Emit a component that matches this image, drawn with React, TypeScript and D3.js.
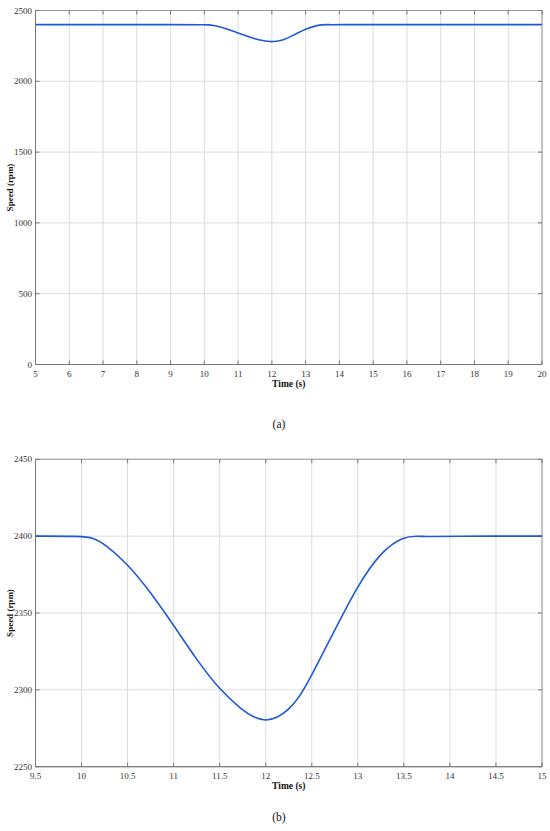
import React from "react";
import * as d3 from "d3";

const timeS = [5, 9.5, 10.0, 10.125, 10.25, 10.5, 10.75, 11.0, 11.25, 11.5, 11.75, 11.875, 12.0, 12.125, 12.25, 12.375, 12.5, 12.75, 13.0, 13.25, 13.5, 13.65, 13.8, 14.0, 15, 20];
const speedRpm = [2400, 2400, 2400, 2399, 2395, 2382, 2363.5, 2342, 2319.5, 2300, 2286.5, 2282, 2279.6, 2281.8, 2287, 2296, 2309.5, 2339, 2368, 2390, 2400, 2400, 2399.6, 2400, 2400, 2400];

const ticksXA = [5, 6, 7, 8, 9, 10, 11, 12, 13, 14, 15, 16, 17, 18, 19, 20];
const ticksYA = [0, 500, 1000, 1500, 2000, 2500];
const ticksXB = [9.5, 10, 10.5, 11, 11.5, 12, 12.5, 13, 13.5, 14, 14.5, 15];
const ticksYB = [2250, 2300, 2350, 2400, 2450];

const xLabel = "Time (s)";
const yLabel = "Speed (rpm)";
const FONT = "Liberation Serif, Times New Roman, Times, DejaVu Serif, serif";

type PanelProps = {
  top: number;
  bottom: number;
  xDomain: [number, number];
  yDomain: [number, number];
  xTicks: number[];
  yTicks: number[];
  caption: string;
  captionY: number;
};

function Panel({ top, bottom, xDomain, yDomain, xTicks, yTicks, caption, captionY }: PanelProps) {
  const left = 35.5;
  const right = 542;
  const x = d3.scaleLinear().domain(xDomain).range([left, right]);
  const y = d3.scaleLinear().domain(yDomain).range([bottom, top]);
  const pts = timeS
    .map((t, i) => [t, speedRpm[i]] as [number, number])
    .filter(([t]) => t >= xDomain[0] - 0.6 && t <= xDomain[1] + 0.6);
  const line = d3
    .line<[number, number]>()
    .x((d) => x(d[0]))
    .y((d) => y(d[1]))
    .curve(d3.curveBasis);
  const clipId = "clip-" + caption.replace(/\W/g, "");
  const fmt = (v: number) => String(v);
  return (
    <g style={{ fontFamily: FONT }}>
      <defs>
        <clipPath id={clipId}>
          <rect x={left} y={top} width={right - left} height={bottom - top} />
        </clipPath>
      </defs>
      {xTicks.map((t) => (
        <line key={"gx" + t} x1={x(t)} x2={x(t)} y1={top} y2={bottom} stroke="#dcdcdc" strokeWidth={1} />
      ))}
      {yTicks.map((t) => (
        <line key={"gy" + t} x1={left} x2={right} y1={y(t)} y2={y(t)} stroke="#dcdcdc" strokeWidth={1} />
      ))}
      <rect x={left} y={top} width={right - left} height={bottom - top} fill="none" stroke="#9a9a9a" strokeWidth={1} />
      <line x1={left} x2={left} y1={top} y2={bottom} stroke="#777" strokeWidth={1} />
      <line x1={left} x2={right} y1={bottom} y2={bottom} stroke="#777" strokeWidth={1} />
      {xTicks.map((t) => (
        <g key={"tx" + t}>
          <line x1={x(t)} x2={x(t)} y1={bottom} y2={bottom - 4} stroke="#777" />
          <line x1={x(t)} x2={x(t)} y1={top} y2={top + 4} stroke="#777" />
          <text x={x(t)} y={bottom + 12} textAnchor="middle" fontSize={9} fill="#333">
            {fmt(t)}
          </text>
        </g>
      ))}
      {yTicks.map((t) => (
        <g key={"ty" + t}>
          <line x1={left} x2={left + 4} y1={y(t)} y2={y(t)} stroke="#777" />
          <line x1={right} x2={right - 4} y1={y(t)} y2={y(t)} stroke="#777" />
          <text x={left - 3.5} y={y(t) + 3} textAnchor="end" fontSize={9} fill="#333">
            {fmt(t)}
          </text>
        </g>
      ))}
      <path d={line(pts) || ""} fill="none" stroke="#2158d8" strokeWidth={1.6} clipPath={`url(#${clipId})`} />
      <text x={(left + right) / 2} y={bottom + 22} textAnchor="middle" fontSize={9.5} fontWeight="bold" fill="#111">
        {xLabel}
      </text>
      <text
        transform={`translate(13, ${(top + bottom) / 2}) rotate(-90)`}
        textAnchor="middle"
        fontSize={9}
        fontWeight="bold"
        fill="#111"
      >
        {yLabel}
      </text>
      <text x={279} y={captionY} textAnchor="middle" fontSize={11.5} fill="#111">
        {caption}
      </text>
    </g>
  );
}

export default function App() {
  return (
    <svg width={550} height={831} style={{ position: "absolute", left: 0, top: 0, background: "#fff" }}>
      <rect width={550} height={831} fill="#fff" />
      <Panel top={10.5} bottom={364.5} xDomain={[5, 20]} yDomain={[0, 2500]} xTicks={ticksXA} yTicks={ticksYA} caption="(a)" captionY={428} />
      <Panel top={459.3} bottom={766.7} xDomain={[9.5, 15]} yDomain={[2250, 2450]} xTicks={ticksXB} yTicks={ticksYB} caption="(b)" captionY={821} />
    </svg>
  );
}
